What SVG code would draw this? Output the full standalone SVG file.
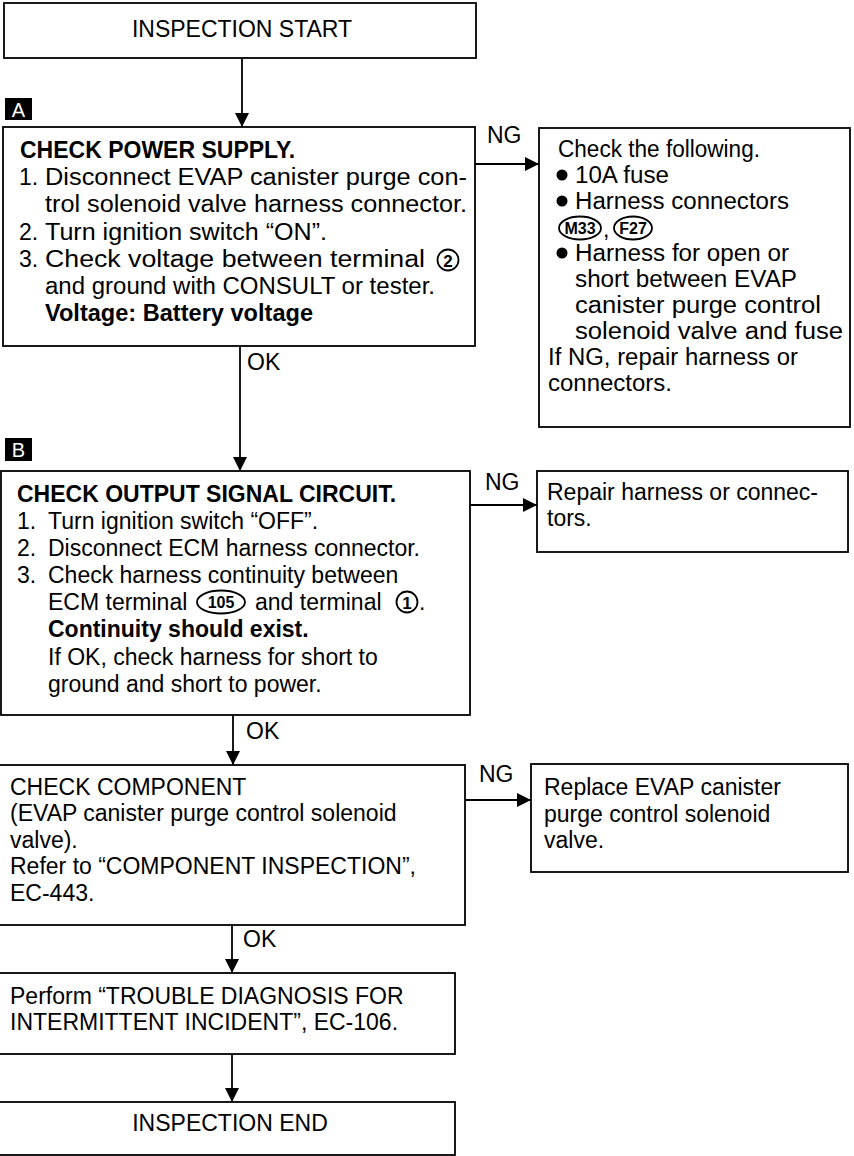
<svg xmlns="http://www.w3.org/2000/svg" width="854" height="1156" viewBox="0 0 854 1156">
<defs>
<marker id="ah" markerUnits="userSpaceOnUse" markerWidth="14" markerHeight="14" viewBox="0 0 14 14" refX="14" refY="7" orient="auto">
<path d="M0,0 L14,7 L0,14 Z" fill="#000"/>
</marker>
</defs>
<style>
.box{fill:#fff;stroke:#000;stroke-width:1.8}
.t{font-family:"Liberation Sans",Arial,sans-serif;font-size:23px;fill:#000}
.b{font-weight:bold}
.c{text-anchor:middle}
.ln{stroke:#000;stroke-width:1.8;fill:none}
.badge{fill:#000}
.bt{font-family:"Liberation Sans",Arial,sans-serif;font-size:20px;fill:#fff;text-anchor:middle}
.circ{fill:none;stroke:#000;stroke-width:1.8}
.sm{font-family:"Liberation Sans",Arial,sans-serif;font-weight:bold;fill:#000;text-anchor:middle}
</style>
<rect width="854" height="1156" fill="#fff"/>

<g id="connectors">
<line class="ln" x1="242" y1="58" x2="242" y2="127" marker-end="url(#ah)"/>
<line class="ln" x1="475" y1="164" x2="539" y2="164" marker-end="url(#ah)"/>
<text class="t" x="487" y="143">NG</text>
<line class="ln" x1="240" y1="347" x2="240" y2="471" marker-end="url(#ah)"/>
<text class="t" x="247" y="370">OK</text>
<line class="ln" x1="470" y1="505" x2="537" y2="505" marker-end="url(#ah)"/>
<text class="t" x="485" y="490">NG</text>
<line class="ln" x1="233" y1="715" x2="233" y2="765" marker-end="url(#ah)"/>
<text class="t" x="246" y="739">OK</text>
<line class="ln" x1="465" y1="800" x2="531" y2="800" marker-end="url(#ah)"/>
<text class="t" x="479" y="782">NG</text>
<line class="ln" x1="232" y1="925" x2="232" y2="973" marker-end="url(#ah)"/>
<text class="t" x="243" y="947">OK</text>
<line class="ln" x1="232" y1="1054" x2="232" y2="1102" marker-end="url(#ah)"/>
</g>

<g id="start">
<rect class="box" x="4" y="3" width="472" height="55"/>
<text class="t c" x="242" y="37">INSPECTION START</text>
</g>

<g id="badgeA">
<rect class="badge" x="5" y="98" width="27" height="22"/>
<text class="bt" x="18.5" y="117">A</text>
</g>

<g id="checkPower">
<rect class="box" x="3" y="127" width="472" height="219"/>
<text class="t b" x="20" y="158">CHECK POWER SUPPLY.</text>
<text class="t" x="19" y="185">1.</text><text class="t" x="45" y="185" textLength="422" lengthAdjust="spacingAndGlyphs">Disconnect EVAP canister purge con-</text>
<text class="t" x="45" y="212" textLength="422" lengthAdjust="spacingAndGlyphs">trol solenoid valve harness connector.</text>
<text class="t" x="19" y="240">2.</text><text class="t" x="45" y="240" textLength="282" lengthAdjust="spacingAndGlyphs">Turn ignition switch “ON”.</text>
<text class="t" x="19" y="267">3.</text><text class="t" x="45" y="267" textLength="380" lengthAdjust="spacingAndGlyphs">Check voltage between terminal</text>
<circle class="circ" cx="448" cy="260" r="10.5"/>
<text class="sm" x="448" y="266.5" font-size="17">2</text>
<text class="t" x="45" y="294" textLength="390" lengthAdjust="spacingAndGlyphs">and ground with CONSULT or tester.</text>
<text class="t b" x="45" y="321" textLength="268" lengthAdjust="spacingAndGlyphs">Voltage: Battery voltage</text>
</g>

<g id="ngPower">
<rect class="box" x="539" y="128" width="311" height="299"/>
<text class="t" x="558" y="157" textLength="202" lengthAdjust="spacingAndGlyphs">Check the following.</text>
<circle cx="562" cy="175" r="5.5" fill="#000"/>
<text class="t" x="575" y="183" textLength="94" lengthAdjust="spacingAndGlyphs">10A fuse</text>
<circle cx="562" cy="201" r="5.5" fill="#000"/>
<text class="t" x="575" y="209" textLength="214" lengthAdjust="spacingAndGlyphs">Harness connectors</text>
<ellipse class="circ" cx="580" cy="228" rx="21" ry="11.5"/>
<text class="sm" x="580" y="234" font-size="16">M33</text>
<text class="t" x="603" y="237">,</text>
<ellipse class="circ" cx="633" cy="228" rx="19" ry="11.5"/>
<text class="sm" x="633" y="234" font-size="16">F27</text>
<circle cx="562" cy="253" r="5.5" fill="#000"/>
<text class="t" x="575" y="261" textLength="214" lengthAdjust="spacingAndGlyphs">Harness for open or</text>
<text class="t" x="575" y="287" textLength="222" lengthAdjust="spacingAndGlyphs">short between EVAP</text>
<text class="t" x="575" y="313" textLength="246" lengthAdjust="spacingAndGlyphs">canister purge control</text>
<text class="t" x="575" y="339" textLength="268" lengthAdjust="spacingAndGlyphs">solenoid valve and fuse</text>
<text class="t" x="548" y="365" textLength="250" lengthAdjust="spacingAndGlyphs">If NG, repair harness or</text>
<text class="t" x="548" y="391" textLength="124" lengthAdjust="spacingAndGlyphs">connectors.</text>
</g>

<g id="badgeB">
<rect class="badge" x="5" y="438" width="27" height="23"/>
<text class="bt" x="18.5" y="457">B</text>
</g>

<g id="checkOutput">
<rect class="box" x="1" y="471" width="469" height="244"/>
<text class="t b" x="17" y="502">CHECK OUTPUT SIGNAL CIRCUIT.</text>
<text class="t" x="17" y="529">1.</text><text class="t" x="48" y="529">Turn ignition switch “OFF”.</text>
<text class="t" x="17" y="556">2.</text><text class="t" x="48" y="556">Disconnect ECM harness connector.</text>
<text class="t" x="17" y="583">3.</text><text class="t" x="48" y="583">Check harness continuity between</text>
<text class="t" x="48" y="610">ECM terminal</text>
<ellipse class="circ" cx="221" cy="602" rx="24" ry="11.5"/>
<text class="sm" x="221" y="608" font-size="16">105</text>
<text class="t" x="255" y="610">and terminal</text>
<circle class="circ" cx="407" cy="602" r="10.5"/>
<text class="sm" x="407" y="608.5" font-size="17">1</text>
<text class="t" x="419" y="610">.</text>
<text class="t b" x="48" y="637">Continuity should exist.</text>
<text class="t" x="48" y="665">If OK, check harness for short to</text>
<text class="t" x="48" y="692">ground and short to power.</text>
</g>

<g id="ngOutput">
<rect class="box" x="537" y="471" width="311" height="81"/>
<text class="t" x="547" y="500">Repair harness or connec-</text>
<text class="t" x="547" y="526">tors.</text>
</g>

<g id="checkComponent">
<rect class="box" x="-2" y="765" width="467" height="160"/>
<text class="t" x="10" y="795">CHECK COMPONENT</text>
<text class="t" x="10" y="821">(EVAP canister purge control solenoid</text>
<text class="t" x="10" y="848">valve).</text>
<text class="t" x="10" y="874">Refer to “COMPONENT INSPECTION”,</text>
<text class="t" x="10" y="901">EC-443.</text>
</g>

<g id="ngComponent">
<rect class="box" x="531" y="764" width="317" height="108"/>
<text class="t" x="544" y="795">Replace EVAP canister</text>
<text class="t" x="544" y="822">purge control solenoid</text>
<text class="t" x="544" y="848">valve.</text>
</g>

<g id="intermittent">
<rect class="box" x="-2" y="973" width="457" height="81"/>
<text class="t" x="10" y="1004">Perform “TROUBLE DIAGNOSIS FOR</text>
<text class="t" x="10" y="1030">INTERMITTENT INCIDENT”, EC-106.</text>
</g>

<g id="end">
<rect class="box" x="-2" y="1102" width="457" height="53"/>
<text class="t c" x="230" y="1131">INSPECTION END</text>
</g>
</svg>
